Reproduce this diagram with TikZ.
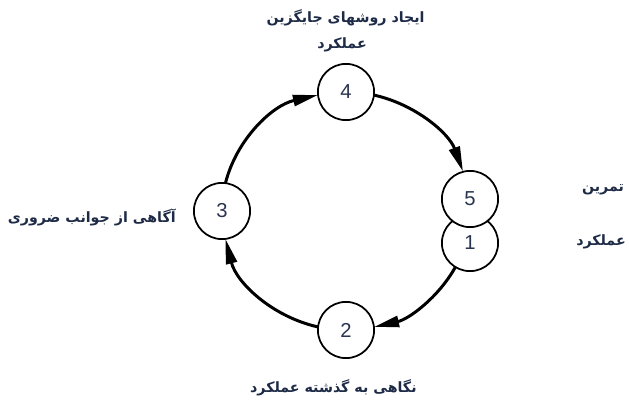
\documentclass[tikz,border=0pt]{standalone}
\usepackage{fontspec}
\setmainfont{Liberation Sans}
\newfontfamily\fafont[Script=Arabic]{DejaVu Sans}
\TeXXeTstate=1
\usetikzlibrary{arrows.meta}
\definecolor{navy}{HTML}{1E2B47}
\definecolor{digit}{HTML}{2A3550}
\tikzset{
  stage/.style={circle,draw=black,line width=1pt,fill=white,minimum size=32pt,inner sep=0pt,font=\fontsize{11.5}{12}\selectfont,text=digit},
  flow/.style={line width=1.7pt,-{Triangle[length=5mm,width=2.2mm]}},
  lbl/.style={font=\fafont\bfseries\fontsize{8.1}{10}\selectfont,text=navy,inner sep=0pt},
  ring/.style={x radius=124,y radius=119}
}
\begin{document}
\begin{tikzpicture}[x=0.02cm,y=-0.02cm]
\useasboundingbox (0,0) rectangle (629,400);
\coordinate (C) at (346,211);
\node[stage] (n4) at (346,92) {4};
\node[stage] (n3) at (222,211) {3};
\node[stage] (n2) at (346,330) {2};
\node[stage] (n1) at (470,243) {1};
\node[stage] (n5) at (470,199) {5};
\draw[flow] ([shift={(193.6:124 and 119)}]C) arc[ring,start angle=193.6,end angle=256.9];
\draw[flow] ([shift={(283.1:124 and 119)}]C) arc[ring,start angle=283.1,end angle=340.6];
\draw[flow] ([shift={(28.2:124 and 119)}]C) arc[ring,start angle=28.2,end angle=76.9];
\draw[flow] ([shift={(103.1:124 and 119)}]C) arc[ring,start angle=103.1,end angle=166.4];
\node[lbl,anchor=east] (t1) at (425,18) {\beginR ایجاد روشهای جایگزین\endR};
\node[lbl] (t2) at (342,45) {\beginR عملکرد\endR};
\node[lbl,anchor=east] (t3) at (176,217) {\beginR آگاهی از جوانب ضروری\endR};
\node[lbl,anchor=east] (t4) at (417,388) {\beginR نگاهی به گذشته عملکرد\endR};
\node[lbl] (t5) at (603,190) {\beginR تمرین\endR};
\node[lbl] (t6) at (601,242) {\beginR عملکرد\endR};
\end{tikzpicture}
\end{document}
